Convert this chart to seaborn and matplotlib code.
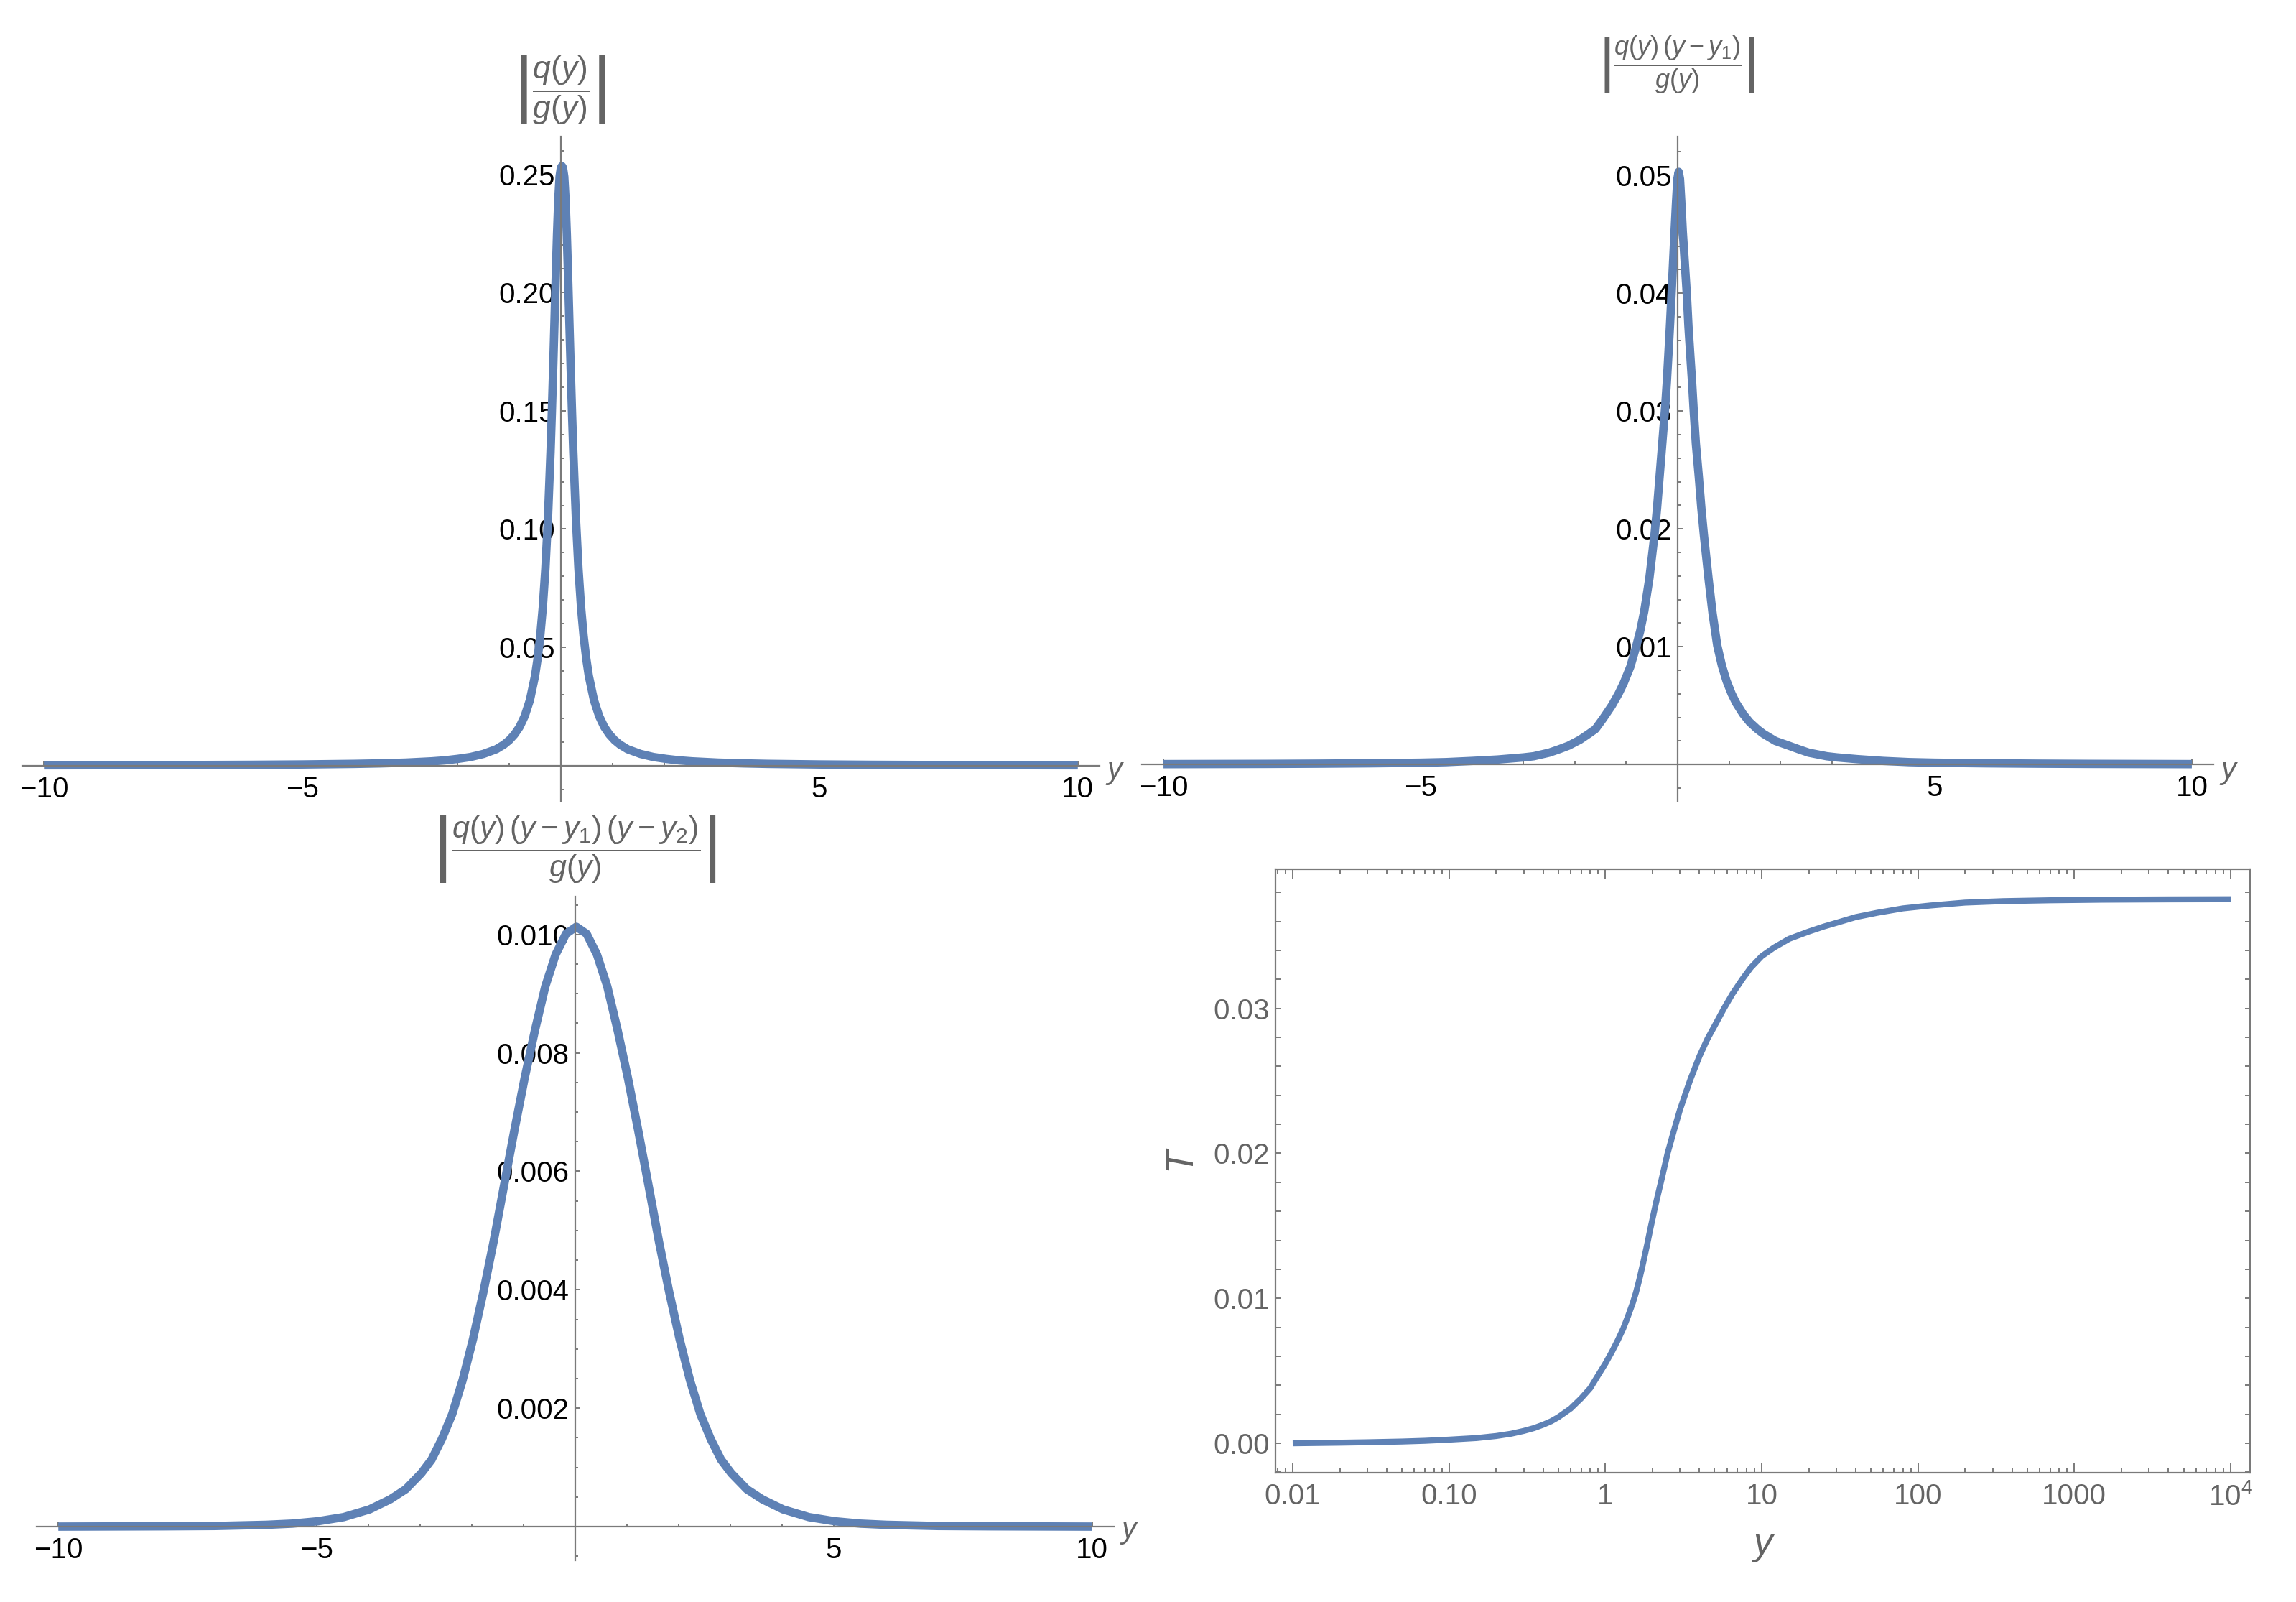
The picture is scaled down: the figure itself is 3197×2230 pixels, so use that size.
import numpy as np
import pandas as pd
import matplotlib
matplotlib.use("Agg")
import matplotlib.pyplot as plt
import seaborn as sns
from matplotlib.ticker import FixedLocator, MultipleLocator, LogLocator, FixedFormatter, NullFormatter

# ---------------- data ----------------
# top-left: |q(y)/g(y)|
tl_x = [-10, -9, -8, -7, -6, -5, -4, -3.5, -3, -2.5, -2.25, -2, -1.75, -1.5, -1.25, -1.1,
        -1.0, -0.9, -0.8, -0.7, -0.6, -0.5, -0.45, -0.4, -0.35, -0.3, -0.25, -0.2, -0.175,
        -0.15, -0.125, -0.1, -0.075, -0.05, -0.025, 0.0, 0.02, 0.04, 0.065, 0.09, 0.115,
        0.14, 0.165, 0.19, 0.215, 0.24, 0.29, 0.34, 0.39, 0.44, 0.49, 0.54, 0.64, 0.74,
        0.84, 0.94, 1.04, 1.14, 1.29, 1.54, 1.79, 2.04, 2.29, 2.54, 3.04, 3.54, 4, 5, 6,
        7, 8, 9, 10]
tl_y = [0.00011, 0.00014, 0.00017, 0.00023, 0.00031, 0.00045, 0.0007, 0.00091, 0.00123,
        0.00177, 0.00218, 0.0028, 0.0036, 0.0049, 0.0069, 0.0089, 0.0107, 0.0131, 0.0163,
        0.0209, 0.0276, 0.0379, 0.0453, 0.0547, 0.0669, 0.0832, 0.1047, 0.1327, 0.1493,
        0.1675, 0.1868, 0.2062, 0.2243, 0.2394, 0.2490, 0.2528, 0.2535, 0.2528, 0.2490,
        0.2394, 0.2243, 0.2062, 0.1868, 0.1675, 0.1493, 0.1327, 0.1047, 0.0832, 0.0669,
        0.0547, 0.0453, 0.0379, 0.0276, 0.0209, 0.0163, 0.0131, 0.0107, 0.0089, 0.0069,
        0.0049, 0.0036, 0.0028, 0.00218, 0.00177, 0.00123, 0.00091, 0.0007, 0.00045,
        0.00031, 0.00023, 0.00017, 0.00014, 0.00011]

# top-right: |q(y)(y-y1)/g(y)|
tr_x = [-10, -9, -8, -7, -6, -5, -4.5, -4, -3.5, -3, -2.8, -2.5, -2.3, -2.12, -1.9, -1.73,
        -1.6, -1.45, -1.28, -1.15, -1.05, -0.92, -0.82, -0.73, -0.65, -0.55, -0.45, -0.40,
        -0.35, -0.30, -0.245, -0.21, -0.18, -0.15, -0.12, -0.09, -0.06, -0.03, -0.005,
        0.02, 0.045, 0.07, 0.10, 0.14, 0.18, 0.21, 0.245, 0.28, 0.31, 0.355, 0.41, 0.46,
        0.51, 0.60, 0.68, 0.77, 0.86, 0.95, 1.05, 1.14, 1.27, 1.40, 1.55, 1.67, 1.9, 2.16,
        2.35, 2.55, 2.9, 3.1, 3.5, 4, 4.5, 5, 6, 7, 8, 9, 10]
tr_y = [0.00003, 0.00004, 0.00005, 0.00007, 0.0001, 0.00015, 0.0002, 0.0003, 0.00042, 0.0006,
        0.0007, 0.0010, 0.0013, 0.0016, 0.0021, 0.0026, 0.0030, 0.0039, 0.0050, 0.0060,
        0.0069, 0.0083, 0.0098, 0.0113, 0.0130, 0.0158, 0.0195, 0.0218, 0.0245, 0.0272,
        0.0302, 0.0325, 0.0348, 0.0372, 0.0398, 0.0425, 0.0452, 0.0478, 0.0497, 0.0503,
        0.0497, 0.0478, 0.0452, 0.0425, 0.0398, 0.0372, 0.0348, 0.0325, 0.0302, 0.0272,
        0.0245, 0.0218, 0.0195, 0.0158, 0.0128, 0.0101, 0.0084, 0.0071, 0.0060, 0.0052,
        0.0043, 0.0036, 0.0030, 0.0026, 0.0020, 0.0016, 0.0013, 0.0010, 0.0007, 0.0006,
        0.00045, 0.0003, 0.0002, 0.00015, 0.0001, 0.00007, 0.00005, 0.00004, 0.00003]

# bottom-left: |q(y)(y-y1)(y-y2)/g(y)|
bl_x = [-10, -7.98, -6.98, -5.98, -5.48, -4.98, -4.48, -3.98, -3.58, -3.28, -2.98, -2.78,
        -2.58, -2.38, -2.18, -1.98, -1.78, -1.58, -1.38, -1.18, -0.98, -0.78, -0.58, -0.38,
        -0.18, 0.02, 0.22, 0.42, 0.62, 0.82, 1.02, 1.22, 1.42, 1.62, 1.82, 2.02, 2.22, 2.42,
        2.62, 2.82, 3.02, 3.32, 3.62, 4.02, 4.52, 5.02, 5.52, 6.02, 7.02, 8.02, 10]
bl_y = [0.0, 0.000005, 0.00001, 0.00003, 0.00005, 0.00009, 0.00016, 0.00029, 0.00046,
        0.00063, 0.00090, 0.00113, 0.00148, 0.00190, 0.00247, 0.00316, 0.00395, 0.00481,
        0.00575, 0.00668, 0.00757, 0.00838, 0.00912, 0.00966, 0.01001, 0.01013, 0.01001,
        0.00966, 0.00912, 0.00838, 0.00757, 0.00668, 0.00575, 0.00481, 0.00395, 0.00316,
        0.00247, 0.00190, 0.00148, 0.00113, 0.00090, 0.00063, 0.00046, 0.00029, 0.00016,
        0.00009, 0.00005, 0.00003, 0.00001, 0.000005, 0.0]

# bottom-right: T(y), log x
br_x = [0.01, 0.02, 0.03, 0.05, 0.07, 0.1, 0.15, 0.2, 0.25, 0.3, 0.35, 0.4, 0.45, 0.5, 0.6,
        0.7, 0.8, 0.9, 1.0, 1.1, 1.2, 1.3, 1.4, 1.5, 1.57, 1.65, 1.75, 1.85, 1.95, 2.1, 2.3,
        2.5, 2.75, 3.0, 3.25, 3.5, 4.0, 4.5, 5.0, 5.74, 6.5, 7.5, 8.5, 10, 12, 15, 20, 25,
        30, 40, 55, 80, 120, 200, 350, 700, 1500, 4000, 10000]
br_y = [0.0, 0.00004, 0.00007, 0.00012, 0.00017, 0.00025, 0.00036, 0.0005, 0.00066, 0.00085,
        0.00105, 0.00128, 0.00152, 0.0018, 0.0024, 0.0031, 0.0038, 0.0047, 0.0055, 0.0063,
        0.0071, 0.0079, 0.0088, 0.0097, 0.0104, 0.0113, 0.0125, 0.0137, 0.0149, 0.0165,
        0.0183, 0.0200, 0.0216, 0.0230, 0.0241, 0.0251, 0.0267, 0.0279, 0.0288, 0.0300,
        0.0310, 0.0320, 0.0328, 0.0336, 0.0342, 0.0348, 0.0353, 0.03565, 0.0359, 0.0363,
        0.0366, 0.0369, 0.0371, 0.0373, 0.0374, 0.03746, 0.0375, 0.03752, 0.03753]

x_major = [-10, -5, 5, 10]
x_major_labels = ["\u221210", "\u22125", "5", "10"]
tl_yticks = [0.05, 0.10, 0.15, 0.20, 0.25]
tl_ylabels = ["0.05", "0.10", "0.15", "0.20", "0.25"]
tr_yticks = [0.01, 0.02, 0.03, 0.04, 0.05]
tr_ylabels = ["0.01", "0.02", "0.03", "0.04", "0.05"]
bl_yticks = [0.002, 0.004, 0.006, 0.008, 0.010]
bl_ylabels = ["0.002", "0.004", "0.006", "0.008", "0.010"]
br_xticks = [0.01, 0.1, 1, 10, 100, 1000, 10000]
br_xlabels = ["0.01", "0.10", "1", "10", "100", "1000", r"$10^{4}$"]
br_yticks = [0.0, 0.01, 0.02, 0.03]
br_ylabels = ["0.00", "0.01", "0.02", "0.03"]

# ---------------- style ----------------
sns.set_theme(style="white")
plt.rcParams["font.family"] = ["Liberation Sans", "DejaVu Sans"]
plt.rcParams["mathtext.fontset"] = "custom"
plt.rcParams["mathtext.rm"] = "Liberation Sans"
plt.rcParams["mathtext.it"] = "Liberation Sans:italic"
plt.rcParams["mathtext.bf"] = "Liberation Sans:bold"

LINE = "#5E81B5"
AXC = "#7a7a7a"
GRAY = "#646464"
W, H = 3197, 2230

fig = plt.figure(figsize=(W / 200, H / 200), dpi=200)
fig.patch.set_facecolor("white")


def add_ax(l, t, r, b):
    return fig.add_axes([l / W, 1 - b / H, (r - l) / W, (b - t) / H])


def ftext(x, y, s, **kw):
    fig.text(x / W, 1 - y / H, s, **kw)


def origin_style(ax, ylim, yticks, ylabels, yminor):
    ax.set_facecolor("none")
    ax.set_xlim(-10.42, 10.42)
    ax.set_ylim(*ylim)
    for s in ["top", "right"]:
        ax.spines[s].set_visible(False)
    for s in ["left", "bottom"]:
        ax.spines[s].set_position(("data", 0))
        ax.spines[s].set_color(AXC)
        ax.spines[s].set_linewidth(0.8)
    ax.xaxis.set_major_locator(FixedLocator(x_major))
    ax.xaxis.set_major_formatter(FixedFormatter(x_major_labels))
    ax.xaxis.set_minor_locator(MultipleLocator(1))
    ax.yaxis.set_major_locator(FixedLocator(yticks))
    ax.yaxis.set_major_formatter(FixedFormatter(ylabels))
    ax.yaxis.set_minor_locator(MultipleLocator(yminor))
    ax.tick_params(which="both", direction="in", color=AXC, width=0.7,
                   bottom=True, left=True, top=False, right=False,
                   labelcolor="black", labelsize=14.5)
    ax.tick_params(which="major", length=2.4)
    ax.tick_params(which="minor", length=1.3)
    ax.tick_params(axis="x", which="major", pad=5)
    ax.tick_params(axis="y", which="major", pad=3)
    ax.set_xlabel("")
    ax.set_ylabel("")
    ax.grid(False)


# ---------------- top-left ----------------
ax1 = add_ax(31, 190, 1531, 1115)
sns.lineplot(x=tl_x, y=tl_y, ax=ax1, color=LINE, linewidth=4.2, solid_capstyle="butt")
origin_style(ax1, (-0.015, 0.266), tl_yticks, tl_ylabels, 0.01)
ftext(779, 125, r"$\left|\dfrac{q(y)}{g(y)}\right|$", ha="center", va="center",
      fontsize=16, color=GRAY)
ftext(1541, 1073, "y", ha="left", va="center", fontsize=15, style="italic", color=GRAY)

# ---------------- top-right ----------------
ax2 = add_ax(1590, 190, 3082, 1115)
sns.lineplot(x=tr_x, y=tr_y, ax=ax2, color=LINE, linewidth=4.2, solid_capstyle="butt")
origin_style(ax2, (-0.0031, 0.0533), tr_yticks, tr_ylabels, 0.002)
ftext(2335, 90, r"$\left|\dfrac{q(y)\,(y-y_1)}{g(y)}\right|$", ha="center", va="center",
      fontsize=13, color=GRAY)
ftext(3092, 1073, "y", ha="left", va="center", fontsize=15, style="italic", color=GRAY)

# ---------------- bottom-left ----------------
ax3 = add_ax(51, 1248, 1551, 2172)
sns.lineplot(x=bl_x, y=bl_y, ax=ax3, color=LINE, linewidth=4.2, solid_capstyle="butt")
origin_style(ax3, (-0.00057, 0.01064), bl_yticks, bl_ylabels, 0.0005)
ftext(800, 1182, r"$\left|\dfrac{q(y)\,(y-y_1)\,(y-y_2)}{g(y)}\right|$", ha="center",
      va="center", fontsize=15.5, color=GRAY)
ftext(1561, 2130, "y", ha="left", va="center", fontsize=15, style="italic", color=GRAY)

# ---------------- bottom-right ----------------
ax4 = add_ax(1776, 1210, 3133, 2050)
sns.lineplot(x=br_x, y=br_y, ax=ax4, color=LINE, linewidth=3.0, solid_capstyle="butt")
ax4.set_xscale("log")
ax4.set_xlim(0.00776, 13300)
ax4.set_ylim(-0.00203, 0.0396)
ax4.set_facecolor("white")
for s in ax4.spines.values():
    s.set_color(AXC)
    s.set_linewidth(0.8)
    s.set_visible(True)
ax4.xaxis.set_major_locator(FixedLocator(br_xticks))
ax4.xaxis.set_major_formatter(FixedFormatter(br_xlabels))
ax4.xaxis.set_minor_locator(LogLocator(base=10, subs=np.arange(2, 10)))
ax4.xaxis.set_minor_formatter(NullFormatter())
ax4.yaxis.set_major_locator(FixedLocator(br_yticks))
ax4.yaxis.set_major_formatter(FixedFormatter(br_ylabels))
ax4.yaxis.set_minor_locator(MultipleLocator(0.002))
ax4.tick_params(which="both", direction="in", color=AXC, width=0.7,
                bottom=True, left=True, top=True, right=True,
                labelcolor=GRAY, labelsize=14.5)
ax4.tick_params(axis="x", which="major", length=5, pad=5)
ax4.tick_params(axis="x", which="minor", length=2.5)
ax4.tick_params(axis="y", which="both", length=2.5)
ax4.tick_params(axis="y", which="major", pad=3)
ax4.set_xlabel("")
ax4.set_ylabel("")
ax4.grid(False)
ftext(2455, 2150, "y", ha="center", va="center", fontsize=19, style="italic", color=GRAY)
ftext(1643, 1613, "T", ha="center", va="center", fontsize=19, style="italic",
      color=GRAY, rotation=90)

fig.savefig("out.png", dpi=200, facecolor="white")
